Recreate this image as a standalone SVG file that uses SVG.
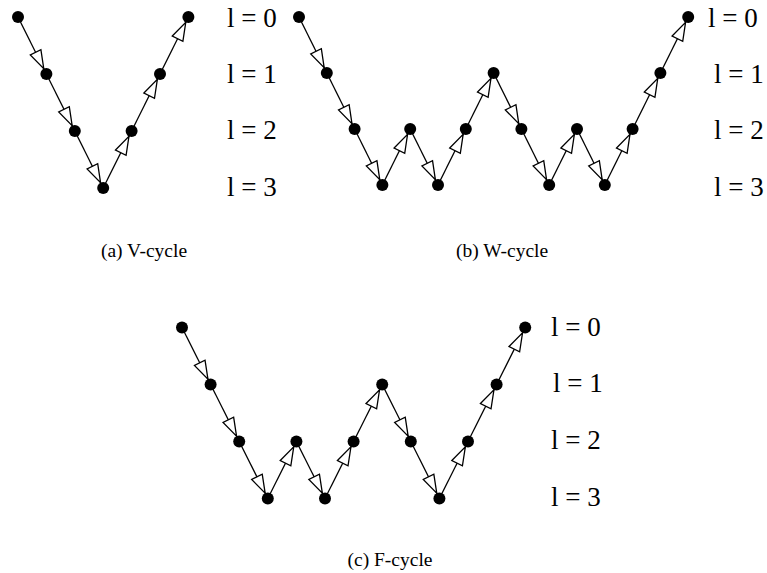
<svg xmlns="http://www.w3.org/2000/svg" width="767" height="573" viewBox="0 0 767 573">
<style>
.e{stroke:#000;stroke-width:1.3;fill:none;marker-end:url(#a)}
.n{fill:#000}
.lb{font-family:"Liberation Serif","Times New Roman",serif;font-size:27px;fill:#000}
.cap{font-family:"Liberation Serif","Times New Roman",serif;font-size:19.5px;fill:#000;text-anchor:middle}
</style>
<defs>
<marker id="a" markerUnits="userSpaceOnUse" markerWidth="30" markerHeight="14" viewBox="-1 -1 25 13" refX="22.5" refY="5.5" orient="auto" overflow="visible">
<path d="M0,0 L17,5.5 L0,11 Z" fill="#fff" stroke="#000" stroke-width="1.2" stroke-linejoin="miter"/>
</marker>
</defs>
<rect width="767" height="573" fill="#fff"/>
<g id="connectors">
<!-- V-cycle -->
<line class="e" x1="18" y1="17" x2="46.4" y2="74"/>
<line class="e" x1="46.4" y1="74" x2="74.8" y2="131"/>
<line class="e" x1="74.8" y1="131" x2="103.2" y2="188"/>
<line class="e" x1="103.2" y1="188" x2="131.6" y2="131"/>
<line class="e" x1="131.6" y1="131" x2="160" y2="74"/>
<line class="e" x1="160" y1="74" x2="188.4" y2="17"/>
<!-- W-cycle -->
<line class="e" x1="299" y1="17" x2="326.8" y2="73"/>
<line class="e" x1="326.8" y1="73" x2="354.6" y2="129"/>
<line class="e" x1="354.6" y1="129" x2="382.4" y2="185"/>
<line class="e" x1="382.4" y1="185" x2="410.2" y2="129"/>
<line class="e" x1="410.2" y1="129" x2="438" y2="185"/>
<line class="e" x1="438" y1="185" x2="465.8" y2="129"/>
<line class="e" x1="465.8" y1="129" x2="493.6" y2="73"/>
<line class="e" x1="493.6" y1="73" x2="521.4" y2="129"/>
<line class="e" x1="521.4" y1="129" x2="549.2" y2="185"/>
<line class="e" x1="549.2" y1="185" x2="577" y2="129"/>
<line class="e" x1="577" y1="129" x2="604.8" y2="185"/>
<line class="e" x1="604.8" y1="185" x2="632.6" y2="129"/>
<line class="e" x1="632.6" y1="129" x2="660.4" y2="73"/>
<line class="e" x1="660.4" y1="73" x2="688.2" y2="17"/>
<!-- F-cycle -->
<line class="e" x1="182" y1="327.5" x2="210.6" y2="384.5"/>
<line class="e" x1="210.6" y1="384.5" x2="239.2" y2="441.5"/>
<line class="e" x1="239.2" y1="441.5" x2="267.8" y2="498.5"/>
<line class="e" x1="267.8" y1="498.5" x2="296.4" y2="441.5"/>
<line class="e" x1="296.4" y1="441.5" x2="325" y2="498.5"/>
<line class="e" x1="325" y1="498.5" x2="353.6" y2="441.5"/>
<line class="e" x1="353.6" y1="441.5" x2="382.2" y2="384.5"/>
<line class="e" x1="382.2" y1="384.5" x2="410.8" y2="441.5"/>
<line class="e" x1="410.8" y1="441.5" x2="439.4" y2="498.5"/>
<line class="e" x1="439.4" y1="498.5" x2="468" y2="441.5"/>
<line class="e" x1="468" y1="441.5" x2="496.6" y2="384.5"/>
<line class="e" x1="496.6" y1="384.5" x2="525.2" y2="327.5"/>
</g>
<g id="v-nodes">
<g id="v1"><circle class="n" cx="18" cy="17" r="6"/></g>
<g id="v2"><circle class="n" cx="46.4" cy="74" r="6"/></g>
<g id="v3"><circle class="n" cx="74.8" cy="131" r="6"/></g>
<g id="v4"><circle class="n" cx="103.2" cy="188" r="6"/></g>
<g id="v5"><circle class="n" cx="131.6" cy="131" r="6"/></g>
<g id="v6"><circle class="n" cx="160" cy="74" r="6"/></g>
<g id="v7"><circle class="n" cx="188.4" cy="17" r="6"/></g>
</g>
<g id="w-nodes">
<g id="w1"><circle class="n" cx="299" cy="17" r="6"/></g>
<g id="w2"><circle class="n" cx="326.8" cy="73" r="6"/></g>
<g id="w3"><circle class="n" cx="354.6" cy="129" r="6"/></g>
<g id="w4"><circle class="n" cx="382.4" cy="185" r="6"/></g>
<g id="w5"><circle class="n" cx="410.2" cy="129" r="6"/></g>
<g id="w6"><circle class="n" cx="438" cy="185" r="6"/></g>
<g id="w7"><circle class="n" cx="465.8" cy="129" r="6"/></g>
<g id="w8"><circle class="n" cx="493.6" cy="73" r="6"/></g>
<g id="w9"><circle class="n" cx="521.4" cy="129" r="6"/></g>
<g id="w10"><circle class="n" cx="549.2" cy="185" r="6"/></g>
<g id="w11"><circle class="n" cx="577" cy="129" r="6"/></g>
<g id="w12"><circle class="n" cx="604.8" cy="185" r="6"/></g>
<g id="w13"><circle class="n" cx="632.6" cy="129" r="6"/></g>
<g id="w14"><circle class="n" cx="660.4" cy="73" r="6"/></g>
<g id="w15"><circle class="n" cx="688.2" cy="17" r="6"/></g>
</g>
<g id="f-nodes">
<g id="f1"><circle class="n" cx="182" cy="327.5" r="6"/></g>
<g id="f2"><circle class="n" cx="210.6" cy="384.5" r="6"/></g>
<g id="f3"><circle class="n" cx="239.2" cy="441.5" r="6"/></g>
<g id="f4"><circle class="n" cx="267.8" cy="498.5" r="6"/></g>
<g id="f5"><circle class="n" cx="296.4" cy="441.5" r="6"/></g>
<g id="f6"><circle class="n" cx="325" cy="498.5" r="6"/></g>
<g id="f7"><circle class="n" cx="353.6" cy="441.5" r="6"/></g>
<g id="f8"><circle class="n" cx="382.2" cy="384.5" r="6"/></g>
<g id="f9"><circle class="n" cx="410.8" cy="441.5" r="6"/></g>
<g id="f10"><circle class="n" cx="439.4" cy="498.5" r="6"/></g>
<g id="f11"><circle class="n" cx="468" cy="441.5" r="6"/></g>
<g id="f12"><circle class="n" cx="496.6" cy="384.5" r="6"/></g>
<g id="f13"><circle class="n" cx="525.2" cy="327.5" r="6"/></g>
</g>
<g id="labels">
<text class="lb" x="227" y="27">l = 0</text>
<text class="lb" x="227" y="83">l = 1</text>
<text class="lb" x="227" y="139">l = 2</text>
<text class="lb" x="227" y="196">l = 3</text>
<text class="lb" x="708" y="27">l = 0</text>
<text class="lb" x="714" y="83">l = 1</text>
<text class="lb" x="714" y="139">l = 2</text>
<text class="lb" x="714" y="196">l = 3</text>
<text class="lb" x="551" y="336">l = 0</text>
<text class="lb" x="553" y="392">l = 1</text>
<text class="lb" x="551" y="449">l = 2</text>
<text class="lb" x="551" y="506">l = 3</text>
<text class="cap" x="144" y="257">(a) V-cycle</text>
<text class="cap" x="502" y="257">(b) W-cycle</text>
<text class="cap" x="390" y="566">(c) F-cycle</text>
</g>
</svg>
